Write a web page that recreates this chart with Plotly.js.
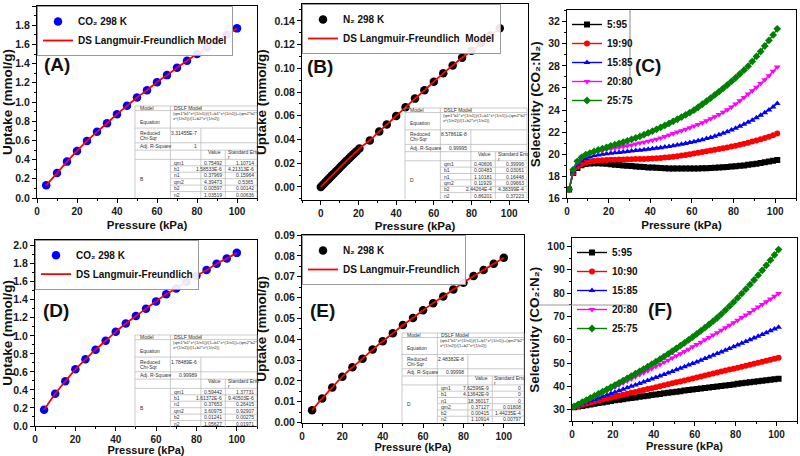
<!DOCTYPE html>
<html><head><meta charset="utf-8">
<script src="https://cdn.plot.ly/plotly-3.0.1.min.js"></script>
<style>html,body{margin:0;padding:0;background:#fff}#chart{width:800px;height:456px}</style>
</head><body><div id="chart"></div>
<script>
// ---------------- DATA ----------------
// (A) CO2 298 K
const pressureA = [4.6,10,15,20,25,30,35,40,45,50,55,60,65,70,75,80,85,90,95,100];
const uptakeA   = [0.132,0.26,0.379,0.49,0.595,0.689,0.779,0.873,0.96,1.047,1.123,1.207,1.28,1.357,1.43,1.50,1.569,1.635,1.70,1.767];
// (B) N2 298 K
const pressureB = [0,1,2,3,4,5,6,7,8,9,10,11,12,13,14,15,16,17,18,19,20.5,26,31,35,40,45,50,55,60,65,70,75,80,85,90,95];
const uptakeB   = [0,0.0017,0.0034,0.005,0.0066,0.0082,0.0098,0.0114,0.013,0.0146,0.0162,0.0178,0.0194,0.021,0.0226,0.0241,0.0256,0.0271,0.0286,0.0301,0.0325,0.0392,0.0468,0.0526,0.0599,0.0672,0.0745,0.0815,0.0888,0.0958,0.1025,0.109,0.1148,0.1215,0.1277,0.1339];
// (D) CO2 298 K
const pressureD = [4.5,10,15,20,25,30,35,40,45,50,55,60,65,70,75,80,85,90,95,100];
const uptakeD   = [0.18,0.357,0.496,0.629,0.739,0.846,0.945,1.044,1.136,1.22,1.30,1.382,1.46,1.526,1.60,1.665,1.73,1.80,1.857,1.92];
// (E) N2 298 K
const pressureE = [5,10,15,20,25,30,35,40,45,50,55,60,65,70,75,80,85,90,95,100];
const uptakeE   = [0.0059,0.01155,0.01685,0.022,0.0265,0.0306,0.035,0.039,0.0428,0.0468,0.0502,0.0539,0.0573,0.0605,0.0639,0.0671,0.0703,0.0732,0.0762,0.0791];

// Selectivity panels (C) and (F)
const selPressure = [1,3,5,7,9,11,13,15,17,19,21,23,25,27,29,31,33,35,37,39,41,43,45,47,49,51,53,55,57,59,61,63,65,67,69,71,73,75,77,79,81,83,85,87,89,91,93,95,97,99,101];
const labelsC = ['5:95','19:90','15:85','20:80','25:75'];
const labelsF = ['5:95','10:90','15:85','20:80','25:75'];
const selC_1 = [16.8,18.3,18.75,19.0,19.1,19.15,19.18,19.18,19.15,19.12,19.08,19.05,19.02,18.98,18.95,18.92,18.89,18.86,18.83,18.8,18.78,18.76,18.74,18.72,18.71,18.7,18.69,18.69,18.69,18.7,18.7,18.71,18.72,18.73,18.75,18.77,18.79,18.81,18.84,18.87,18.9,18.94,18.98,19.03,19.08,19.13,19.19,19.26,19.33,19.4,19.48];
const selC_2 = [16.8,18.3,18.85,19.1,19.25,19.33,19.38,19.42,19.45,19.47,19.49,19.5,19.51,19.52,19.53,19.54,19.55,19.56,19.57,19.59,19.61,19.63,19.66,19.69,19.73,19.77,19.82,19.87,19.93,19.99,20.05,20.12,20.19,20.26,20.33,20.4,20.47,20.54,20.61,20.69,20.77,20.86,20.95,21.04,21.14,21.24,21.35,21.46,21.58,21.72,21.86];
const selC_3 = [16.8,18.4,19.1,19.4,19.6,19.75,19.85,19.93,19.99,20.04,20.08,20.12,20.16,20.2,20.24,20.28,20.32,20.36,20.4,20.44,20.48,20.53,20.58,20.64,20.7,20.76,20.83,20.9,20.97,21.05,21.13,21.22,21.31,21.41,21.51,21.63,21.76,21.9,22.04,22.19,22.35,22.52,22.7,22.88,23.08,23.3,23.52,23.76,24.0,24.27,24.6];
const selC_4 = [16.8,18.5,19.35,19.75,19.95,20.08,20.18,20.27,20.35,20.43,20.5,20.56,20.62,20.69,20.76,20.84,20.92,21.0,21.08,21.17,21.26,21.36,21.46,21.6,21.73,21.86,22.0,22.13,22.26,22.4,22.54,22.69,22.85,23.02,23.2,23.39,23.59,23.8,24.02,24.27,24.55,24.84,25.14,25.44,25.75,26.07,26.4,26.75,27.1,27.5,27.9];
const selC_5 = [16.8,18.6,19.35,19.7,19.95,20.1,20.25,20.38,20.5,20.62,20.75,20.86,20.97,21.09,21.21,21.34,21.47,21.61,21.76,21.92,22.08,22.25,22.42,22.6,22.78,22.97,23.16,23.36,23.56,23.77,23.98,24.25,24.52,24.8,25.08,25.37,25.66,25.96,26.27,26.59,26.92,27.26,27.61,27.97,28.4,28.85,29.3,29.8,30.3,30.8,31.35];
const selF_1 = [31.0,31.3,31.6,31.9,32.2,32.5,32.8,33.1,33.4,33.7,34.0,34.25,34.5,34.75,35.0,35.25,35.5,35.75,36.0,36.25,36.5,36.74,36.98,37.22,37.46,37.7,37.93,38.16,38.39,38.62,38.85,39.07,39.29,39.51,39.73,39.95,40.17,40.39,40.61,40.83,41.05,41.27,41.49,41.71,41.93,42.15,42.37,42.59,42.81,43.03,43.25];
const selF_2 = [31.1,31.6,32.1,32.6,33.05,33.5,33.95,34.4,34.8,35.2,35.6,36.0,36.4,36.8,37.2,37.6,38.0,38.4,38.8,39.2,39.6,40.02,40.44,40.86,41.28,41.7,42.12,42.54,42.96,43.38,43.8,44.22,44.64,45.06,45.48,45.9,46.32,46.74,47.16,47.58,48.0,48.42,48.84,49.26,49.68,50.1,50.52,50.94,51.36,51.78,52.2];
const selF_3 = [31.2,31.85,32.5,33.15,33.78,34.4,35.02,35.64,36.26,36.88,37.5,38.12,38.74,39.36,39.98,40.6,41.23,41.86,42.5,43.14,43.78,44.43,45.08,45.74,46.4,47.07,47.74,48.42,49.1,49.79,50.48,51.18,51.88,52.59,53.3,54.02,54.74,55.47,56.2,56.94,57.68,58.43,59.18,59.94,60.7,61.47,62.24,63.02,63.8,64.59,65.38];
const selF_4 = [31.3,32.1,32.95,33.8,34.65,35.5,36.35,37.2,38.05,38.9,39.75,40.6,41.46,42.32,43.18,44.05,44.92,45.8,46.68,47.57,48.46,49.36,50.27,51.19,52.12,53.06,54.01,54.97,55.94,56.92,57.91,58.91,59.92,60.94,61.97,63.01,64.06,65.12,66.19,67.27,68.36,69.46,70.57,71.69,72.82,73.96,75.11,76.27,77.44,78.62,79.81];
const selF_5 = [31.4,32.3,33.2,34.1,35.0,35.9,36.82,37.74,38.67,39.6,40.54,41.49,42.45,43.42,44.4,45.39,46.39,47.41,48.44,49.49,50.56,51.65,52.76,53.89,55.04,56.21,57.41,58.63,59.88,61.15,62.45,63.78,65.14,66.53,67.95,69.4,71.0,72.65,74.35,76.1,77.9,79.75,81.65,83.6,85.6,87.65,89.75,91.9,94.1,96.35,98.65];

// Fit-report tables
const fitParams = ['qm1','b1','n1','qm2','b2','n2'];
const eqLine1 = '(qm1*b1*x^(1/n1))/(1+b1*x^(1/n1))+(qm2*b2*';
const eqLine2 = 'x^(1/n2))/(1+b2*x^(1/n2))';
const tableA_values = ['0.75492','1.58533E-6','0.37969','4.39473','0.00597','1.03519'];
const tableA_errors = ['1.10714','4.21313E-6','0.15964','0.5365','0.00142','0.00636'];
const tableB_values = ['0.40606','0.00483','1.10181','0.11929','2.44264E-4','0.86201'];
const tableB_errors = ['0.39996','0.03061','0.16448','0.09663','4.38399E-4','0.37223'];
const tableD_values = ['0.59442','1.61372E-6','0.37653','3.60975','0.01241','1.05627'];
const tableD_errors = ['1.37731','9.40503E-6','0.26415','0.92907','0.00275','0.01971'];
const tableE_values = ['7.62596E-9','4.13642E-9','18.36017','0.37127','0.00415','1.10914'];
const tableE_errors = ['0','0','0','0.01808','1.44235E-4','0.00797'];
const tableStats = { A:['3.31455E-7','1','B'], B:['8.57861E-8','0.99995','D'], D:['1.78489E-6','0.99989','B'], E:['2.48382E-8','0.99998','D'] };

// ---------------- STYLE / LAYOUT ----------------
const FONT = 'Liberation Sans, Arial, sans-serif';
const W = 800, H = 456;
const fx = p => p / W, fy = p => 1 - p / H;
const xTickFont = {family: FONT, size: 10, color: '#1a1a1a', weight: 'bold'};
const yTickFont = {family: FONT, size: 10.5, color: '#1a1a1a', weight: 'bold'};
const xTitleFont = {family: FONT, size: 11.5, color: '#111', weight: 'bold'};
const yTitleFont = {family: FONT, size: 13.5, color: '#111', weight: 'bold'};
const legFont = {family: FONT, size: 10, color: '#111', weight: 'bold'};

function xAx(l, r, range, anchor, standoff, titleSize) {
  return {domain:[fx(l), fx(r)], range, anchor, tick0:0, dtick:20, ticks:'outside', ticklen:4, tickcolor:'#000',
    showline:true, linecolor:'#000', linewidth:1, mirror:true, showgrid:false, zeroline:false, tickfont:xTickFont,
    minor:{ticks:'outside', ticklen:2, dtick:10, tickcolor:'#000'},
    title:{text:'Pressure (kPa)', font:Object.assign({}, xTitleFont, {size: titleSize}), standoff: standoff}};
}
function yAx(b, t, range, anchor, dtick, fmt, title, tick0) {
  return {domain:[fy(b), fy(t)], range, anchor, tick0: tick0 || 0, dtick, tickformat: fmt, ticks:'outside', ticklen:4, tickcolor:'#000',
    showline:true, linecolor:'#000', linewidth:1, mirror:true, showgrid:false, zeroline:false, tickfont:yTickFont,
    minor:{ticks:'outside', ticklen:2, dtick: dtick/2, tickcolor:'#000'},
    title:{text:title, font:yTitleFont, standoff:4}};
}

const traces = [];
function isoPanel(xs, ys, xa, ya, leg, color, gasName, modelName) {
  traces.push({x: xs, y: ys, xaxis: xa, yaxis: ya, legend: leg, type:'scatter', mode:'markers', name: gasName,
    marker:{symbol:'circle', size:8.5, color: color}});
  traces.push({x: xs, y: ys, xaxis: xa, yaxis: ya, legend: leg, type:'scatter', mode:'lines', name: modelName,
    line:{color:'#ff0000', width:1.8, shape:'spline', smoothing:0.6}});
}
isoPanel(pressureA, uptakeA, 'x', 'y', 'legend', '#0000ff', 'CO₂ 298 K', 'DS Langmuir-Freundlich Model');
isoPanel(pressureB, uptakeB, 'x2', 'y2', 'legend2', '#000000', 'N₂ 298 K', 'DS Langmuir-Freundlich  Model');
isoPanel(pressureD, uptakeD, 'x4', 'y4', 'legend4', '#0000ff', 'CO₂ 298 K', 'DS Langmuir-Freundlich');
isoPanel(pressureE, uptakeE, 'x5', 'y5', 'legend5', '#000000', 'N₂ 298 K', 'DS Langmuir-Freundlich');

const selColors = ['#000000','#ff0000','#0000ff','#ff00ff','#008000'];
const selSymbols = ['square','circle','triangle-up','triangle-down','diamond'];
function selPanel(series, labels, ax, leg) {
  series.forEach((ys, i) => traces.push({x: selPressure, y: ys, xaxis:'x'+ax, yaxis:'y'+ax, legend: leg, type:'scatter',
    mode:'lines+markers', name: labels[i], line:{color: selColors[i], width:1.4},
    marker:{symbol: selSymbols[i], size:6, color: selColors[i]}}));
}
selPanel([selC_1, selC_2, selC_3, selC_4, selC_5], labelsC, '3', 'legend3');
selPanel([selF_1, selF_2, selF_3, selF_4, selF_5], labelsF, '6', 'legend6');

// tables
const shapes = [], annos = [];
function addTable(box, vals, errs, stats) {
  const [L, T, R, B] = box, w = R - L, h = B - T;
  const cx = f => fx(L + f * w), cy = f => fy(T + f * h);
  const c1 = 0.29, c2 = 0.54, c3 = 0.74;
  const r = [0, 0.05, 0.24, 0.40, 0.48, 0.58, 0.65, 0.72, 0.79, 0.86, 0.93, 1.0];
  const ln = (x0, y0, x1, y1) => shapes.push({type:'line', xref:'paper', yref:'paper', x0:cx(x0), y0:cy(y0), x1:cx(x1), y1:cy(y1), line:{color:'#b5b5b5', width:0.7}});
  ln(0, 0, 1, 0); ln(0, 0, 0, 1); ln(1, 0, 1, 1);
  [1, 2, 3, 4, 5].forEach(i => ln(0, r[i], 1, r[i]));
  [6, 7, 8, 9, 10].forEach(i => ln(c1, r[i], 1, r[i]));
  ln(c1, 0, c1, 1); ln(c2, r[2], c2, 1); ln(c3, r[4], c3, 1); ln(c2, 0, c2, r[1]);
  const tx = (t, fxp, fyp, anchor, size) => annos.push({xref:'paper', yref:'paper', x:cx(fxp), y:cy(fyp), text:t, showarrow:false,
    xanchor: anchor || 'left', yanchor:'middle', borderpad:0, font:{family:FONT, size: size || 5, color:'#333'}});
  tx('Model', 0.03, 0.027); tx('DSLF Model', c1 + 0.02, 0.027);
  tx(eqLine1, c1 + 0.01, 0.085, 'left', 4.2); tx(eqLine2, c1 + 0.01, 0.135, 'left', 4.2); tx('Equation', 0.03, 0.17);
  tx('Reduced', 0.03, 0.29); tx('Chi-Sqr', 0.03, 0.345); tx(stats[0], c2 - 0.02, 0.29, 'right');
  tx('Adj. R-Square', 0.03, 0.44); tx(stats[1], c2 - 0.02, 0.44, 'right');
  tx('Value', c2 + 0.05, 0.505); tx('Standard Erro', c3 + 0.01, 0.505); tx('r', c3 + 0.01, 0.555);
  fitParams.forEach((p, i) => {
    const yy = (r[5 + i] + r[6 + i]) / 2;
    tx(p, c1 + 0.02, yy); tx(vals[i], c3 - 0.02, yy, 'right'); tx(errs[i], 0.98, yy, 'right');
  });
  tx(stats[2], 0.03, 0.79);
}
addTable([135, 106, 257, 198], tableA_values, tableA_errors, tableStats.A);
addTable([405, 108, 527, 199], tableB_values, tableB_errors, tableStats.B);
addTable([135, 335, 257, 427], tableD_values, tableD_errors, tableStats.D);
addTable([402, 333, 524, 422.5], tableE_values, tableE_errors, tableStats.E);

// panel letters
const panelLetters = [['(A)', 57, 64], ['(B)', 320, 67], ['(C)', 648, 65], ['(D)', 56, 310], ['(E)', 322, 310], ['(F)', 660, 309]];
panelLetters.forEach(([t, x, y]) => annos.push({xref:'paper', yref:'paper', x:fx(x), y:fy(y), text:t, showarrow:false,
  xanchor:'center', yanchor:'middle', font:{family:FONT, size:19, color:'#111', weight:'bold'}}));

// legend frame fragments
shapes.push({type:'line', xref:'paper', yref:'paper', x0:fx(630), x1:fx(630), y0:fy(10), y1:fy(80), line:{color:'#888', width:1}});
shapes.push({type:'line', xref:'paper', yref:'paper', x0:fx(530), x1:fx(630), y0:fy(305), y1:fy(305), line:{color:'#999', width:1}});

const legBase = {xanchor:'left', yanchor:'top', bgcolor:'rgba(255,255,255,0.9)', font: legFont, itemwidth:30, tracegroupgap:0};
const boxed = {bordercolor:'#999', borderwidth:1};
const selTitle = 'Selectivity (CO₂:N₂)';
const layout = {
  width: W, height: H, margin:{l:0, r:0, t:0, b:0}, paper_bgcolor:'#fff', plot_bgcolor:'#fff', showlegend:true,
  xaxis:  xAx(37, 257, [0, 110], 'y', 4, 11.5),
  yaxis:  yAx(198, 6, [0, 2.0], 'x', 0.2, '.1f', 'Uptake (mmol/g)'),
  xaxis2: xAx(302, 528, [-10, 110], 'y2', 3, 11.5),
  yaxis2: yAx(200, 4, [-0.011, 0.1543], 'x2', 0.02, '.2f', 'Uptake (mmol/g)'),
  xaxis3: xAx(567, 796, [0, 110], 'y3', 4, 11.5),
  yaxis3: yAx(198.3, 10, [16, 33.06], 'x3', 2, 'd', selTitle),
  xaxis4: xAx(35, 257, [0, 110], 'y4', 0, 11),
  yaxis4: yAx(426, 239.7, [0, 2.066], 'x4', 0.2, '.1f', 'Uptake (mmol/g)'),
  xaxis5: xAx(302, 524, [0, 110], 'y5', 0, 11),
  yaxis5: yAx(422.5, 235, [0, 0.09], 'x5', 0.01, '.2f', 'Uptake (mmol/g)'),
  xaxis6: xAx(572, 797, [0, 110], 'y6', 0, 11),
  yaxis6: yAx(421.3, 238, [25.0, 103.6], 'x6', 10, 'd', selTitle, 0),
  legend:  Object.assign({}, legBase, boxed, {x: fx(37), y: fy(6)}),
  legend2: Object.assign({}, legBase, boxed, {x: fx(302), y: fy(4)}),
  legend3: Object.assign({}, legBase, {x: fx(567), y: fy(10), bgcolor:'rgba(0,0,0,0)'}),
  legend4: Object.assign({}, legBase, boxed, {x: fx(35), y: fy(239.7)}),
  legend5: Object.assign({}, legBase, boxed, {x: fx(302), y: fy(235)}),
  legend6: Object.assign({}, legBase, {x: fx(572), y: fy(238), bgcolor:'rgba(0,0,0,0)'}),
  shapes, annotations: annos
};
Plotly.newPlot('chart', traces, layout, {staticPlot:true, displayModeBar:false});
</script></body></html>
